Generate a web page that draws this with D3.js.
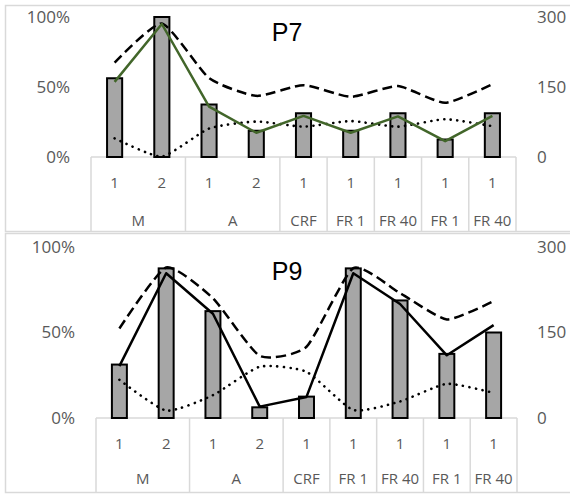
<!DOCTYPE html>
<html>
<head>
<meta charset="utf-8">
<script src="https://cdn.jsdelivr.net/npm/d3@7"></script>
<style>
  body { margin: 0; background: #fff; }
  svg { display: block; }
  .tick text { fill: #595959; }
</style>
</head>
<body>
<div id="chart"></div>
<script>
// category labels (two-level axis)
const subLabels = ['1', '2', '1', '2', '1', '1', '1', '1', '1']
const groupLabels = ['M', 'A', 'CRF', 'FR 1', 'FR 40', 'FR 1', 'FR 40']
const groupSizes = [2, 2, 1, 1, 1, 1, 1]

// P7 — bars are shares (left axis), lines on right axis 0-300
const p7Bars = [0.5625, 1, 0.375, 0.1875, 0.3125, 0.1875, 0.3125, 0.125, 0.3125]
const p7Solid = [161, 285, 108, 52, 88, 52, 87, 34, 88]
const p7Dashed = [202, 286, 169, 131, 154, 129, 152, 116, 156]
const p7Dotted = [40, 1, 61, 76, 65, 77, 65, 81, 66]

// P9
const p9Bars = [0.3125, 0.875, 0.625, 0.0625, 0.125, 0.875, 0.6875, 0.375, 0.5]
const p9Solid = [91, 254, 183, 20, 37, 254, 200, 110, 163]
const p9Dashed = [157, 264, 210, 109, 125, 263, 219, 173, 205]
const p9Dotted = [67, 13, 40, 90, 81, 14, 29, 60, 44]

const leftTicks = [0, 0.5, 1]
const rightTicks = [0, 150, 300]

let svg = d3.select('#chart')
  .append('svg')
  .attr('width', 570)
  .attr('height', 494)

const grey = '#d9d9d9'
const axisFont = '"Open Sans", sans-serif'

function drawPanel(p) {
  let g = svg.append('g')

  // frame
  g.append('rect')
    .attr('x', 5.5).attr('y', p.frameTop + 0.5)
    .attr('width', 580).attr('height', p.frameBottom - p.frameTop)
    .attr('fill', 'none').attr('stroke', grey).attr('stroke-width', 1.5)

  let x = d3.scaleBand()
    .domain(d3.range(subLabels.length))
    .range([p.left, p.right])
    .padding(0)

  let yLeft = d3.scaleLinear().domain([0, 1]).range([p.bottom, p.top])
  let yRight = d3.scaleLinear().domain([0, 300]).range([p.bottom, p.top])

  // left axis
  let la = g.append('g')
    .attr('transform', `translate(${p.leftLabelX},0)`)
    .call(d3.axisLeft(yLeft).tickValues(leftTicks).tickFormat(d3.format('.0%')).tickSize(0).tickPadding(0))
  la.select('.domain').remove()
  la.selectAll('text').attr('font-family', axisFont).attr('font-size', 17)

  // right axis
  let ra = g.append('g')
    .attr('transform', 'translate(537,0)')
    .call(d3.axisRight(yRight).tickValues(rightTicks).tickSize(0).tickPadding(0))
  ra.select('.domain').remove()
  ra.selectAll('text').attr('font-family', axisFont).attr('font-size', 17)

  // category axis lines
  g.append('line')
    .attr('x1', p.left).attr('x2', p.right)
    .attr('y1', p.bottom).attr('y2', p.bottom)
    .attr('stroke', grey).attr('stroke-width', 1.5)

  let starts = [0]
  groupSizes.forEach(s => starts.push(starts[starts.length - 1] + s))
  let bounds = starts.map(i => p.left + i * x.step())

  g.selectAll('.sep')
    .data(bounds)
    .enter()
    .append('line')
    .attr('class', 'sep')
    .attr('x1', d => d).attr('x2', d => d)
    .attr('y1', p.bottom).attr('y2', p.frameBottom)
    .attr('stroke', grey).attr('stroke-width', 1.5)

  g.selectAll('.sub-label')
    .data(subLabels)
    .enter()
    .append('text')
    .attr('class', 'sub-label')
    .attr('x', (d, i) => x(i) + x.bandwidth() / 2)
    .attr('y', p.row1)
    .attr('text-anchor', 'middle')
    .attr('dominant-baseline', 'central')
    .attr('font-family', axisFont)
    .attr('font-size', 15)
    .attr('fill', '#595959')
    .text(d => d)

  g.selectAll('.group-label')
    .data(groupLabels)
    .enter()
    .append('text')
    .attr('class', 'group-label')
    .attr('x', (d, i) => (bounds[i] + bounds[i + 1]) / 2)
    .attr('y', p.row2)
    .attr('text-anchor', 'middle')
    .attr('dominant-baseline', 'central')
    .attr('font-family', axisFont)
    .attr('font-size', 15)
    .attr('fill', '#595959')
    .text(d => d)

  // bars
  let bw = x.bandwidth() * 0.32
  g.selectAll('.bar')
    .data(p.bars)
    .enter()
    .append('rect')
    .attr('class', 'bar')
    .attr('x', (d, i) => x(i) + x.bandwidth() / 2 - bw / 2)
    .attr('y', d => yLeft(d))
    .attr('width', bw)
    .attr('height', d => yLeft(0) - yLeft(d))
    .attr('fill', '#a6a6a6')
    .attr('stroke', '#000')
    .attr('stroke-width', 2)

  let cx = i => x(i) + x.bandwidth() / 2

  // excel-style smoothing, a bit tighter than catmull-rom
  let smooth = d3.line()
    .x((d, i) => cx(i))
    .y(d => yRight(d))
    .curve(d3.curveCardinal.tension(0.45))

  let straight = d3.line()
    .x((d, i) => cx(i))
    .y(d => yRight(d))

  g.append('path')
    .attr('d', smooth(p.dashed))
    .attr('fill', 'none')
    .attr('stroke', '#000')
    .attr('stroke-width', 2.5)
    .attr('stroke-dasharray', '10 5')

  g.append('path')
    .attr('d', smooth(p.dotted))
    .attr('fill', 'none')
    .attr('stroke', '#000')
    .attr('stroke-width', 2.6)
    .attr('stroke-linecap', 'round')
    .attr('stroke-dasharray', '0.1 6.5')

  g.append('path')
    .attr('d', straight(p.solid))
    .attr('fill', 'none')
    .attr('stroke', p.solidColor)
    .attr('stroke-width', 2.5)
    .attr('stroke-linejoin', 'round')

  // title
  g.append('text')
    .attr('x', 287)
    .attr('y', p.titleY)
    .attr('text-anchor', 'middle')
    .attr('font-family', '"Liberation Sans", Arial, sans-serif')
    .attr('font-size', 25)
    .attr('fill', '#000')
    .text(p.title)
}

drawPanel({
  title: 'P7', titleY: 41,
  frameTop: 5, frameBottom: 231,
  left: 91, right: 516, top: 17, bottom: 157,
  leftLabelX: 70, row1: 182, row2: 220,
  bars: p7Bars, solid: p7Solid, dashed: p7Dashed, dotted: p7Dotted,
  solidColor: '#42662a'
})

drawPanel({
  title: 'P9', titleY: 280,
  frameTop: 233, frameBottom: 492,
  left: 96, right: 517, top: 247, bottom: 418,
  leftLabelX: 75, row1: 443, row2: 478,
  bars: p9Bars, solid: p9Solid, dashed: p9Dashed, dotted: p9Dotted,
  solidColor: '#000'
})
</script>
</body>
</html>
